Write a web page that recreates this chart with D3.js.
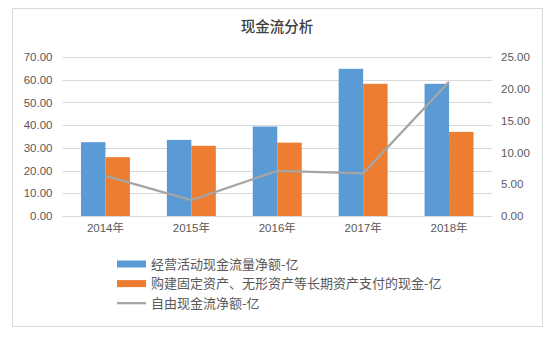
<!DOCTYPE html>
<html><head><meta charset="utf-8">
<script src="https://cdn.jsdelivr.net/npm/d3@7"></script>
<style>
html,body{margin:0;padding:0;background:#fff;}
svg text{font-family:"Liberation Sans","Noto Sans CJK SC",sans-serif;}
</style></head>
<body><svg id="c" width="550" height="337"></svg>
<script>
const years = ["2014年","2015年","2016年","2017年","2018年"];
const operating = [32.5, 33.5, 39.4, 64.8, 58.2];
const capex = [25.9, 30.9, 32.3, 58.2, 37.05];
const freeCash = [6.3, 2.5, 7.1, 6.7, 21.1];
const leftTicks = [0,10,20,30,40,50,60,70];
const rightTicks = [0,5,10,15,20,25];
const seriesNames = ["经营活动现金流量净额-亿","购建固定资产、无形资产等长期资产支付的现金-亿","自由现金流净额-亿"];
const colors = ["#5B9BD5","#ED7D31","#A5A5A5"];

const svg = d3.select("#c");
svg.append("rect").attr("x",12.5).attr("y",8.5).attr("width",530).attr("height",318)
  .attr("fill","#fff").attr("stroke","#d9d9d9").attr("stroke-width",1);

svg.append("text").attr("x",277).attr("y",32).attr("text-anchor","middle")
  .attr("font-size",14.5).attr("fill","#404040").attr("font-weight",500)
  .style("font-family","'Noto Sans CJK SC',sans-serif").text("现金流分析");

const L = 62.5, R = 492, T = 57, B = 216;
const x = d3.scaleBand().domain(years).range([L,R]).paddingInner(0.43).paddingOuter(0.215);
const xs = d3.scaleBand().domain([0,1]).range([0,x.bandwidth()]);
const yL = d3.scaleLinear().domain([0,70]).range([B,T]);
const yR = d3.scaleLinear().domain([0,25]).range([B,T]);

// gridlines
svg.append("g").selectAll("line").data(leftTicks).join("line")
  .attr("x1",L).attr("x2",R)
  .attr("y1",d=>Math.round(yL(d))+0.5).attr("y2",d=>Math.round(yL(d))+0.5)
  .attr("stroke","#d9d9d9").attr("stroke-width",1);

// left axis
const axL = svg.append("g").attr("transform",`translate(${L},0)`)
  .call(d3.axisLeft(yL).tickValues(leftTicks).tickFormat(d3.format(".2f")).tickSize(0).tickPadding(10));
axL.select(".domain").remove();
axL.selectAll("text").attr("font-size",11.5).attr("fill","#595959").style("font-family","'Liberation Sans',sans-serif");

const axR = svg.append("g").attr("transform",`translate(${R},0)`)
  .call(d3.axisRight(yR).tickValues(rightTicks).tickFormat(d3.format(".2f")).tickSize(0).tickPadding(9));
axR.select(".domain").remove();
axR.selectAll("text").attr("font-size",11.5).attr("fill","#595959").style("font-family","'Liberation Sans',sans-serif");

// bars
const groups = svg.append("g").selectAll("g").data(years).join("g")
  .attr("transform",d=>`translate(${x(d)},0)`);
groups.append("rect").attr("x",xs(0)).attr("width",xs.bandwidth())
  .attr("y",(d,i)=>yL(operating[i])).attr("height",(d,i)=>B-yL(operating[i])).attr("fill",colors[0]);
groups.append("rect").attr("x",xs(1)).attr("width",xs.bandwidth())
  .attr("y",(d,i)=>yL(capex[i])).attr("height",(d,i)=>B-yL(capex[i])).attr("fill",colors[1]);

// line
const line = d3.line().x((d,i)=>x(years[i])+x.bandwidth()/2).y(d=>yR(d));
svg.append("path").datum(freeCash).attr("d",line).attr("fill","none")
  .attr("stroke",colors[2]).attr("stroke-width",2.25).attr("stroke-linejoin","round");

// x axis labels
const axX = svg.append("g").attr("transform",`translate(0,${B})`)
  .call(d3.axisBottom(x).tickSize(0).tickPadding(8));
axX.select(".domain").remove();
axX.selectAll("text").attr("font-size",11.5).attr("fill","#595959");

// legend
const lg = svg.append("g").selectAll("g").data(seriesNames).join("g")
  .attr("transform",(d,i)=>`translate(117,${264+i*19.6})`);
lg.filter((d,i)=>i<2).append("rect").attr("x",0).attr("y",-3.5).attr("width",29).attr("height",7)
  .attr("fill",(d,i)=>colors[i]);
lg.filter((d,i)=>i===2).append("line").attr("x1",0).attr("x2",29).attr("y1",0).attr("y2",0)
  .attr("stroke",colors[2]).attr("stroke-width",2.25);
lg.append("text").attr("x",34).attr("y",0).attr("dy","0.36em")
  .attr("font-size",13).attr("fill","#595959")
  .style("font-family","'Noto Sans CJK SC',sans-serif").text(d=>d);
</script></body></html>
